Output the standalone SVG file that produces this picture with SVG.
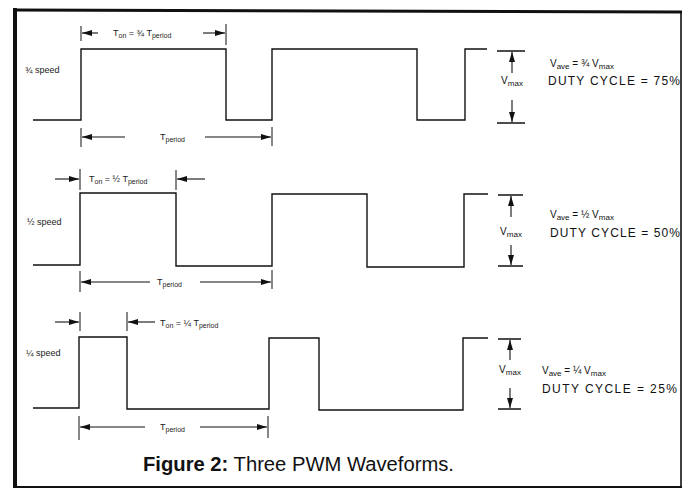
<svg xmlns="http://www.w3.org/2000/svg" width="684" height="490" viewBox="0 0 684 490">
<defs>
<marker id="ah" viewBox="0 0 10 6" refX="10" refY="3" markerWidth="10" markerHeight="6" markerUnits="userSpaceOnUse" orient="auto">
<path d="M0,0 L10,3 L0,6 z" fill="#111"/>
</marker>
<style>
.w{fill:none;stroke:#111;stroke-width:1.4;stroke-linejoin:miter}
.d{fill:none;stroke:#111;stroke-width:1.1;marker-end:url(#ah)}
.t{fill:none;stroke:#111;stroke-width:1}
.b{fill:none;stroke:#111;stroke-width:1.5}
.s{font-family:"Liberation Sans Narrow","Liberation Sans",Arial,sans-serif;font-size:9px;fill:#222}
.m{font-family:"Liberation Sans Narrow","Liberation Sans",Arial,sans-serif;font-size:10px;fill:#111}
.u{font-family:"Liberation Sans Narrow","Liberation Sans",Arial,sans-serif;font-size:12px;fill:#111}
.c{font-family:"Liberation Sans Narrow","Liberation Sans",Arial,sans-serif;font-size:20px;fill:#111}
</style>
</defs>
<rect width="684" height="490" fill="#fff"/>
<g id="frame">
<line x1="15" y1="8" x2="15" y2="488" stroke="#111" stroke-width="4"/>
<line x1="13" y1="10" x2="682" y2="12" stroke="#111" stroke-width="3"/>
<line x1="681" y1="11" x2="681" y2="488" stroke="#111" stroke-width="1.6"/>
<line x1="13" y1="487" x2="682" y2="487" stroke="#111" stroke-width="2"/>
</g>
<g id="wave-75">
<path class="w" d="M33,120 H81 V49 H226 V120 H272 V49 H417 V120 H465 V49 H487"/>
<text class="s" x="25" y="73">¾ speed</text>
</g>
<g id="wave-50">
<path class="w" d="M33,265 H80 V193 H176 V266 H272 V194 H367 V267 H464 V194 H488"/>
<text class="s" x="27" y="225">½ speed</text>
</g>
<g id="wave-25">
<path class="w" d="M33,408 H79 V337 H127 V409 H269 V338 H319 V410 H463 V338 H488"/>
<text class="s" x="26" y="356">¼ speed</text>
</g>
<g id="connectors">
<!-- row 1 -->
<line class="t" x1="81" y1="26" x2="81" y2="41"/>
<line class="t" x1="226" y1="24" x2="226" y2="45"/>
<line class="d" x1="98" y1="33" x2="82" y2="33"/>
<line class="d" x1="203" y1="33" x2="225" y2="33"/>
<line class="t" x1="81" y1="128" x2="81" y2="147"/>
<line class="t" x1="272" y1="127" x2="272" y2="146"/>
<line class="d" x1="125" y1="137" x2="82" y2="137"/>
<line class="d" x1="205" y1="137" x2="271" y2="137"/>
<line class="b" x1="497" y1="51" x2="525" y2="51"/>
<line class="b" x1="497" y1="123" x2="525" y2="123"/>
<line class="d" x1="512" y1="73" x2="512" y2="52"/>
<line class="d" x1="512" y1="100" x2="512" y2="122"/>
<!-- row 2 -->
<line class="t" x1="80" y1="169" x2="80" y2="190"/>
<line class="t" x1="176" y1="170" x2="176" y2="190"/>
<line class="d" x1="55" y1="179" x2="79" y2="179"/>
<line class="d" x1="205" y1="179" x2="177" y2="179"/>
<line class="t" x1="80" y1="271" x2="80" y2="292"/>
<line class="t" x1="272" y1="270" x2="272" y2="289"/>
<line class="d" x1="150" y1="282" x2="81" y2="282"/>
<line class="d" x1="200" y1="282" x2="271" y2="282"/>
<line class="b" x1="498" y1="195" x2="523" y2="195"/>
<line class="b" x1="498" y1="266" x2="523" y2="266"/>
<line class="d" x1="511" y1="217" x2="511" y2="196"/>
<line class="d" x1="511" y1="245" x2="511" y2="265"/>
<!-- row 3 -->
<line class="t" x1="80" y1="312" x2="80" y2="331"/>
<line class="t" x1="127" y1="312" x2="127" y2="331"/>
<line class="d" x1="55" y1="322" x2="79" y2="322"/>
<line class="d" x1="155" y1="322" x2="128" y2="322"/>
<line class="t" x1="79" y1="416" x2="79" y2="440"/>
<line class="t" x1="268" y1="416" x2="268" y2="438"/>
<line class="d" x1="145" y1="427" x2="80" y2="427"/>
<line class="d" x1="200" y1="427" x2="267" y2="427"/>
<line class="b" x1="498" y1="339" x2="521" y2="339"/>
<line class="b" x1="498" y1="409" x2="521" y2="409"/>
<line class="d" x1="510" y1="360" x2="510" y2="340"/>
<line class="d" x1="510" y1="388" x2="510" y2="408"/>
</g>
<g id="labels">
<text class="s" x="113" y="36">T<tspan dy="2" font-size="7">on</tspan><tspan dy="-2"> = ¾ T</tspan><tspan dy="2" font-size="7">period</tspan></text>
<text class="s" x="160" y="140">T<tspan dy="2" font-size="7">period</tspan></text>
<text class="s" x="89" y="182">T<tspan dy="2" font-size="7">on</tspan><tspan dy="-2"> = ½ T</tspan><tspan dy="2" font-size="7">period</tspan></text>
<text class="s" x="157" y="285">T<tspan dy="2" font-size="7">period</tspan></text>
<text class="s" x="160" y="326">T<tspan dy="2" font-size="7">on</tspan><tspan dy="-2"> = ¼ T</tspan><tspan dy="2" font-size="7">period</tspan></text>
<text class="s" x="160" y="430">T<tspan dy="2" font-size="7">period</tspan></text>
<text class="m" x="512" y="84" text-anchor="middle">V<tspan dy="2" font-size="8">max</tspan></text>
<text class="m" x="511" y="235" text-anchor="middle">V<tspan dy="2" font-size="8">max</tspan></text>
<text class="m" x="510" y="373" text-anchor="middle">V<tspan dy="2" font-size="8">max</tspan></text>
<text class="m" x="550" y="67">V<tspan dy="2" font-size="8">ave</tspan><tspan dy="-2"> = ¾ V</tspan><tspan dy="2" font-size="8">max</tspan></text>
<text class="u" x="548" y="85" textLength="132" lengthAdjust="spacing">DUTY CYCLE = 75%</text>
<text class="m" x="550" y="218">V<tspan dy="2" font-size="8">ave</tspan><tspan dy="-2"> = ½ V</tspan><tspan dy="2" font-size="8">max</tspan></text>
<text class="u" x="550" y="237" textLength="130" lengthAdjust="spacing">DUTY CYCLE = 50%</text>
<text class="m" x="542" y="374">V<tspan dy="2" font-size="8">ave</tspan><tspan dy="-2"> = ¼ V</tspan><tspan dy="2" font-size="8">max</tspan></text>
<text class="u" x="542" y="393" textLength="135" lengthAdjust="spacing">DUTY CYCLE = 25%</text>
</g>
<g id="caption">
<text class="c" x="143" y="471" textLength="311" lengthAdjust="spacingAndGlyphs"><tspan font-weight="bold">Figure 2:</tspan> Three PWM Waveforms.</text>
</g>
</svg>
